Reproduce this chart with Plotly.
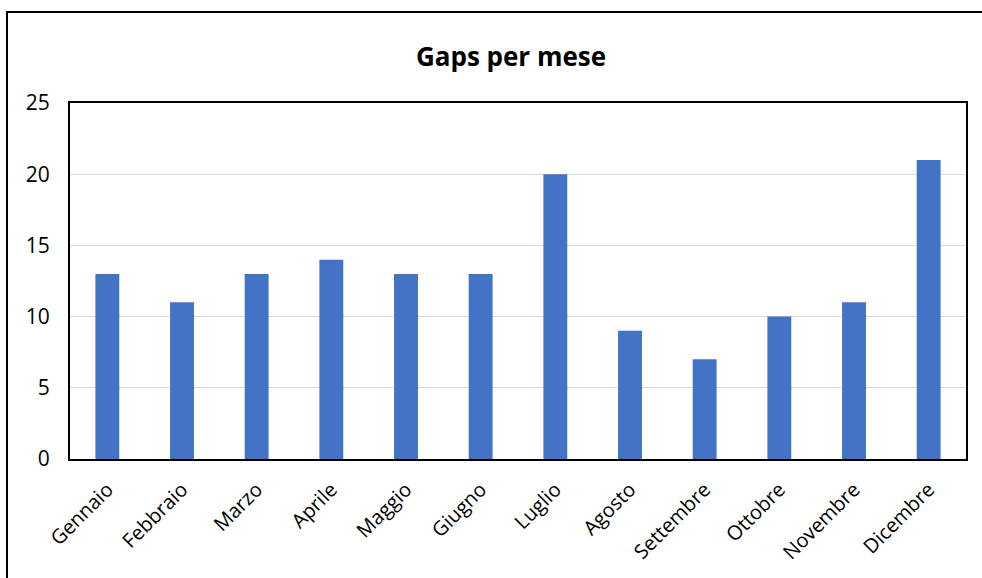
import plotly.graph_objects as go

months = ["Gennaio", "Febbraio", "Marzo", "Aprile", "Maggio", "Giugno",
          "Luglio", "Agosto", "Settembre", "Ottobre", "Novembre", "Dicembre"]
gaps = [13, 11, 13, 14, 13, 13, 20, 9, 7, 10, 11, 21]
y_ticks = [0, 5, 10, 15, 20, 25]

W, H = 982, 578
L, R, T, B = 70, 16, 103, 119
pw, ph = W - L - R, H - T - B

def px_x(p):
    return (p - L) / pw

def px_y(p):
    return (H - B - p) / ph

font = "Open Sans, Liberation Sans, sans-serif"

fig = go.Figure(go.Bar(x=months, y=gaps, marker=dict(color="#4472C4", line=dict(width=0))))

fig.update_layout(
    width=W, height=H,
    margin=dict(l=L, r=R, t=T, b=B),
    paper_bgcolor="white", plot_bgcolor="white",
    bargap=0.68,
    showlegend=False,
    font=dict(family=font, size=20, color="black"),
    title=dict(text="<b>Gaps per mese</b>", xref="paper", x=px_x(511), xanchor="center",
               y=1 - 57 / H, yanchor="middle",
               font=dict(family=font, size=26, color="black")),
    xaxis=dict(tickangle=-45, showline=True, linecolor="black", linewidth=2,
               mirror=True, ticks="outside", ticklen=9, tickcolor="rgba(0,0,0,0)",
               tickfont=dict(size=20)),
    yaxis=dict(range=[0, 25], tickvals=y_ticks, showgrid=True, gridcolor="#d9d9d9",
               gridwidth=1, showline=True, linecolor="black", linewidth=2,
               mirror=True, ticks="outside", ticklen=14, tickcolor="rgba(0,0,0,0)",
               zeroline=False, tickfont=dict(size=21)),
    shapes=[dict(type="rect", xref="paper", yref="paper",
                 x0=px_x(7), x1=px_x(1000), y0=px_y(600), y1=px_y(12),
                 line=dict(color="black", width=2), fillcolor="rgba(0,0,0,0)",
                 layer="below")],
)

fig.write_html("out.html")
